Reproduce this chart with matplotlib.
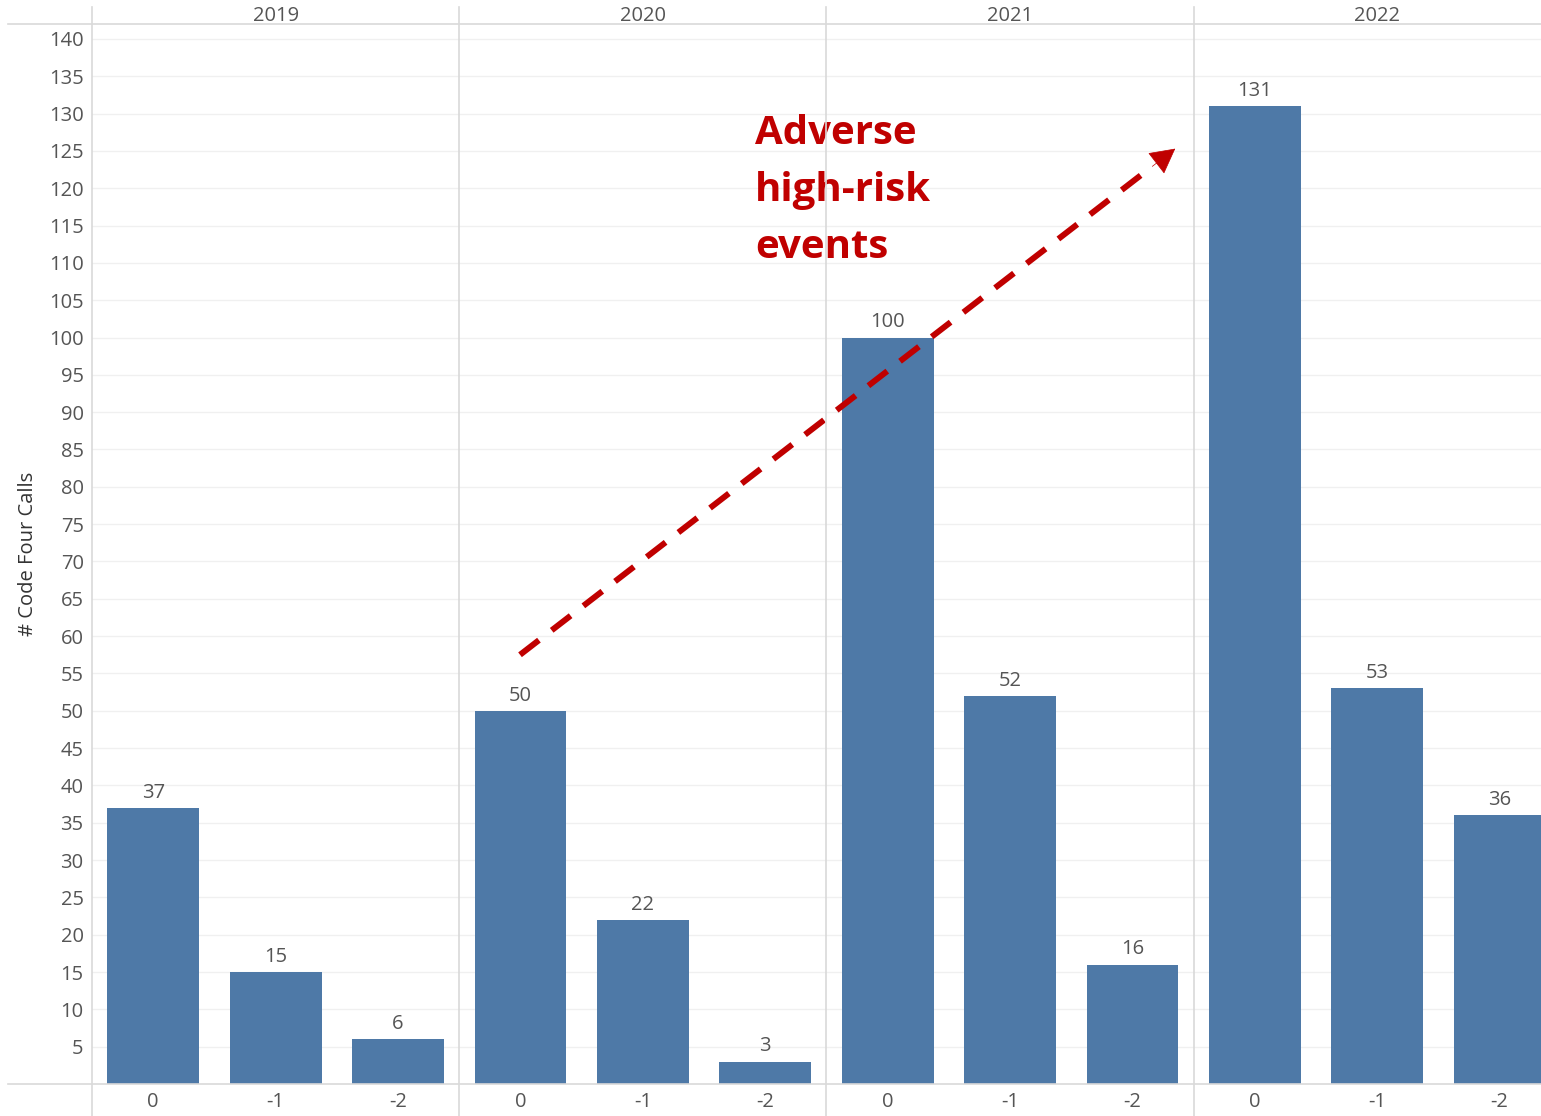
import numpy as np
import matplotlib
matplotlib.use("Agg")
import matplotlib.pyplot as plt
from matplotlib.lines import Line2D

# data
years = ["2019", "2020", "2021", "2022"]
offsets = ["0", "-1", "-2"]
calls_2019 = [37, 15, 6]
calls_2020 = [50, 22, 3]
calls_2021 = [100, 52, 16]
calls_2022 = [131, 53, 36]
yticks = list(range(5, 141, 5))

plt.rcParams['font.family'] = ['Open Sans', 'DejaVu Sans']

W, H = 1541, 1116
fig = plt.figure(figsize=(W / 100, H / 100), dpi=100)

# last panel runs past the right edge of the picture
slot = 122.4
left = 92 / W
width = 12 * slot / W
bottom, top = 1 - 1084 / H, 1 - 24 / H
ax = fig.add_axes([left, bottom, width, top - bottom])

values = calls_2019 + calls_2020 + calls_2021 + calls_2022
labels = offsets * len(years)
x = np.arange(len(values))

bar_col = "#4e79a7"
txt_col = "#555555"
fs = 14.5
ax.bar(x, values, width=0.75, color=bar_col, zorder=3)
for xi, v in zip(x, values):
    ax.text(xi, v + 0.7, str(v), ha="center", va="bottom", fontsize=fs, color=txt_col, zorder=4)

ax.set_xlim(-0.5, len(values) - 0.5)
ax.set_ylim(0, 142)
ax.set_yticks(yticks)
ax.set_yticklabels([str(t) for t in yticks], fontsize=fs, color=txt_col)
ax.set_xticks(x)
ax.set_xticklabels(labels, fontsize=fs, color=txt_col)
ax.tick_params(axis="both", length=0)
ax.tick_params(axis="y", pad=6)
ax.tick_params(axis="x", pad=6)
ax.grid(axis="y", color="#f0f0f0", linewidth=1.0, zorder=0)
for s in ax.spines.values():
    s.set_visible(False)

ax.set_ylabel("# Code Four Calls", fontsize=fs, color="#333333", labelpad=8)

# panel separators and header lines (figure coordinates)
line_col = "#d9d9d9"
for i in range(len(years)):
    xf = left + width * (i * 3) / len(values)
    fig.add_artist(Line2D([xf, xf], [0, 1 - 7 / H], color=line_col, linewidth=1.2))
    xc = left + width * (i * 3 + 1.5) / len(values)
    fig.text(xc, 1 - 16 / H, years[i], ha="center", va="center", fontsize=fs, color=txt_col)
fig.add_artist(Line2D([8 / W, 1], [top, top], color=line_col, linewidth=1.2))
fig.add_artist(Line2D([8 / W, 1], [bottom, bottom], color=line_col, linewidth=1.2))

# annotation
red = "#c00000"
x0, y0 = 2.997, 57.5
x1, y1 = 8.35, 125.3
t = 0.955
ax.plot([x0, x0 + (x1 - x0) * t], [y0, y0 + (y1 - y0) * t], color=red, linewidth=4.3,
        linestyle=(0, (4, 2.7)), dash_capstyle="butt", zorder=5)
ax.annotate("", xy=(x1, y1), xytext=(x0 + (x1 - x0) * 0.965, y0 + (y1 - y0) * 0.965),
            arrowprops=dict(arrowstyle="-|>,head_length=0.75,head_width=0.4", color=red,
                            linewidth=0.5, mutation_scale=22, shrinkA=0, shrinkB=0),
            zorder=5)
ax.text(4.917, 129.9, "Adverse\nhigh-risk\nevents", ha="left", va="top", fontsize=29,
        fontweight="bold", color=red, linespacing=1.6, zorder=5)

fig.savefig("out.png", dpi=100)
